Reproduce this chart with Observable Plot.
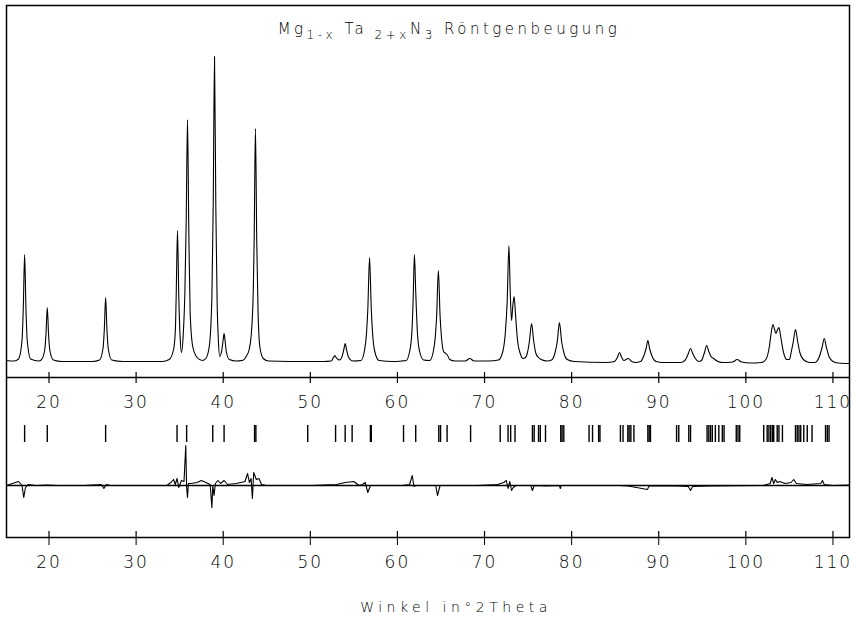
<!DOCTYPE html>
<html><head><meta charset="utf-8">
<script src="https://cdn.jsdelivr.net/npm/d3@7"></script>
<script src="https://cdn.jsdelivr.net/npm/@observablehq/plot@0.6"></script>
<style>body{margin:0;background:#fff;}</style>
</head><body><div id="chart"></div>
<script>
// Observed diffraction profile: [2Theta, intensity]
const observed = [
 [15.15,10],[16.0,5],
 [16.5,25],[16.9,210],[17.05,540],[17.2,1070],[17.35,540],[17.5,210],[17.9,25],[18.8,5],
 [19.1,15],[19.5,110],[19.65,270],[19.8,540],[19.95,270],[20.1,110],[20.5,15],[21.5,0],[25.0,0],
 [25.8,15],[26.2,130],[26.35,320],[26.5,640],[26.65,320],[26.8,130],[27.2,15],[28.5,0],[33.0,0],
 [33.8,20],[34.3,120],[34.5,300],[34.6,650],[34.75,1310],[34.9,650],[35.05,250],[35.2,90],
 [35.4,250],[35.6,700],[35.75,1400],[35.9,2420],[36.05,1300],[36.2,500],[36.5,150],[37.0,40],[37.6,10],
 [38.0,30],[38.4,150],[38.7,650],[38.85,1550],[39.0,3050],[39.15,1550],[39.3,600],[39.45,200],[39.6,50],
 [39.85,120],[40.0,220],[40.1,280],[40.2,220],[40.35,100],[40.7,20],[41.5,5],
 [42.2,10],[42.7,60],[42.95,110],[43.2,250],[43.45,700],[43.55,1200],[43.7,2330],[43.85,1200],[44.0,500],[44.2,150],[44.6,30],[45.2,5],
 [50.0,0],[51.5,0],
 [52.4,5],[52.65,40],[52.8,60],[52.95,40],[53.2,20],[53.35,15],
 [53.6,40],[53.85,120],[54.0,180],[54.15,120],[54.4,40],[54.9,5],
 [55.8,10],[56.2,100],[56.45,280],[56.6,520],[56.8,1040],[57.0,520],[57.15,280],[57.4,100],[57.9,10],
 [59.5,0],[60.5,5],
 [61.0,10],[61.4,100],[61.65,280],[61.8,600],[61.95,1070],[62.1,700],[62.3,280],[62.55,100],[63.0,15],
 [63.7,10],[64.1,90],[64.35,250],[64.5,450],[64.7,910],[64.9,450],[65.05,250],[65.3,100],[65.55,80],[65.7,70],[66.0,20],[66.6,5],
 [67.8,5],[68.3,30],[68.8,5],[70.5,5],
 [71.6,15],[72.1,100],[72.4,300],[72.6,600],[72.8,1160],[72.95,700],[73.1,410],[73.25,560],[73.4,650],[73.55,480],[73.8,200],[74.1,80],[74.4,30],[74.7,40],
 [74.9,80],[75.15,200],[75.4,380],[75.65,200],[75.9,80],[76.2,40],[76.5,20],[77.2,5],
 [77.7,15],[78.1,90],[78.35,200],[78.6,390],[78.85,200],[79.1,90],[79.5,20],[80.3,0],
 [84.0,-10],
 [84.9,0],[85.25,40],[85.5,90],[85.75,40],[86.0,10],[86.5,30],[86.9,0],[87.3,-10],
 [87.9,0],[88.3,60],[88.55,130],[88.75,210],[88.95,130],[89.2,60],[89.7,0],[90.5,-10],[92.5,-10],
 [93.0,10],[93.4,80],[93.65,130],[93.9,80],[94.2,30],[94.6,0],
 [94.9,10],[95.25,90],[95.5,160],[95.75,100],[96.0,50],[96.3,30],[96.7,5],[97.3,-10],
 [98.5,-5],[99.0,20],[99.5,-5],[100.5,-15],[101.8,-10],
 [102.3,20],[102.7,150],[102.9,280],[103.1,370],[103.3,320],[103.45,280],[103.6,310],[103.8,340],[104.0,250],[104.3,100],[104.7,20],[105.0,20],
 [105.2,90],[105.45,200],[105.7,320],[105.95,200],[106.2,90],[106.6,20],[107.3,-10],[107.9,-10],
 [108.4,40],[108.75,140],[109.0,230],[109.25,140],[109.55,50],[110.0,0],[110.6,-15],[111.9,-20]
];

// Difference curve (observed - calculated): [2Theta, difference]
const difference = [
 [15.12,0],[15.8,20],[16.5,40],[16.9,0],[17.1,-120],[17.3,-20],[17.6,10],[18.5,0],[19.8,5],[21.0,0],[24.0,0],
 [26.0,10],[26.3,-30],[26.6,10],[27.0,0],[33.5,0],[34.0,30],[34.3,60],[34.5,10],[34.7,70],[34.9,-20],[35.2,50],[35.5,40],
 [35.7,400],[35.8,-20],[35.9,-120],[36.0,20],[36.3,20],[37.0,30],[37.5,50],[38.0,30],[38.5,10],[38.7,-220],[38.8,0],[38.95,-100],
 [39.1,20],[39.4,50],[39.7,20],[40.1,50],[40.5,10],[41.5,20],[42.0,30],[42.5,40],[42.8,120],[43.0,30],[43.2,70],[43.35,-130],
 [43.5,130],[43.8,60],[44.1,70],[44.4,10],[45.0,0],[50.0,0],[53.0,10],[54.0,30],[55.0,40],[55.6,0],[56.0,10],[56.3,30],[56.6,-70],
 [56.9,0],[58.0,0],[60.5,0],[61.4,10],[61.7,100],[61.9,-10],[62.1,0],[63.5,0],[64.4,0],[64.6,-100],[64.9,0],[66.0,0],[69.0,0],
 [71.5,10],[72.2,30],[72.5,50],[72.7,-30],[72.9,40],[73.1,-50],[73.3,-20],[73.6,0],[75.3,0],[75.5,-50],[75.7,0],[77.0,-5],
 [78.6,0],[78.7,-30],[78.8,0],[80.0,0],[85.5,0],[86.5,-5],[88.7,-40],[88.9,-5],[92.0,-5],[93.4,-10],[93.65,-50],[93.9,-10],
 [96.0,-5],[102.0,0],[102.8,20],[103.0,80],[103.2,20],[103.4,60],[103.6,30],[103.9,40],[104.5,20],[105.2,30],[105.5,60],
 [105.8,20],[107.0,10],[108.6,20],[108.8,50],[109.0,10],[110.0,0],[111.9,5]
];

// Bragg reflection positions (2Theta)
const reflections = [
 17.2,19.8,26.5,34.7,35.8,38.8,40.1,43.6,43.75,
 49.7,52.9,54.0,54.8,56.9,57.0,60.7,62.1,64.75,64.95,65.7,68.4,71.8,72.7,73.0,73.5,75.5,75.7,76.2,76.4,77.0,
 78.75,78.9,79.1,82.0,82.4,83.1,83.25,85.6,85.9,86.45,86.6,86.8,87.15,88.75,88.9,89.05,92.05,92.3,93.45,93.65,
 95.55,95.75,95.95,96.15,96.5,96.9,97.3,97.5,98.9,99.1,99.3,102.05,102.45,102.65,102.85,103.05,103.2,103.6,103.8,
 104.2,105.7,105.9,106.1,106.3,106.65,107.05,107.6,109.15,109.35,109.55
];

const tickValues = [20,30,40,50,60,70,80,90,100,110];
const titleParts = [["Mg",0],["1-x",1],[" Ta",0],[" 2+x",1],["N",0],["3",1],[" Röntgenbeugung",0]];
const titleText = titleParts.map(d => d[0]).join("");
const xLabel = "Winkel in°2Theta";

// vertical layout (intensity units)
const yMin = -1760, yMax = 3560;
const midAxis = -160, reflTop = -640, reflBottom = -810, diffZero = -1240;

const font = "DejaVu Sans";

const plot = Plot.plot({
  width: 851, height: 623,
  marginLeft: 6, marginRight: 2, marginTop: 5, marginBottom: 86,
  x: {domain: [15.12, 111.9]},
  y: {domain: [yMin, yMax], axis: null},
  style: {fontFamily: font, background: "white", color: "black"},
  marks: [
    Plot.frame({stroke: "black", strokeWidth: 1.5}),
    Plot.line(observed, {x: d => d[0], y: d => d[1], stroke: "black", strokeWidth: 1.1, curve: "monotone-x"}),
    Plot.ruleY([midAxis], {stroke: "black", strokeWidth: 1.3}),
    Plot.ruleX(tickValues, {x: d => d, y1: midAxis - 60, y2: midAxis + 50, stroke: "black", strokeWidth: 1.2}),
    Plot.text(tickValues, {x: d => d, y: midAxis, dy: 25, text: d => String(d), fontSize: 17, fontWeight: 200, lineAnchor: "middle", fill: "black"}),
    Plot.ruleX(reflections, {x: d => d, y1: reflBottom, y2: reflTop, stroke: "black", strokeWidth: 1.4}),
    Plot.ruleY([diffZero], {stroke: "black", strokeWidth: 1.4}),
    Plot.line(difference, {x: d => d[0], y: d => diffZero + d[1], stroke: "black", strokeWidth: 1.1}),
    Plot.ruleX(tickValues, {x: d => d, y1: yMin, y2: yMin + 60, stroke: "black", strokeWidth: 1.2}),
    Plot.axisX(tickValues, {anchor: "bottom", tickSize: 8, tickPadding: 10, fontSize: 17, fontWeight: 200, label: null, tickFormat: d => String(d), fill: "black"}),
    Plot.text([xLabel], {frameAnchor: "bottom", dx: 28, dy: 70, fontSize: 14, fontWeight: 200, lineAnchor: "middle", fill: "black"}),
    Plot.text([titleText], {frameAnchor: "top", dx: 21, dy: 24, fontSize: 15, fontWeight: 200, lineAnchor: "middle", fill: "black"})
  ]
});

const svg = d3.select(plot);
svg.selectAll("text").attr("letter-spacing", 2);
svg.selectAll("text").filter(function() { return this.textContent === titleText; }).each(function() {
  const t = d3.select(this);
  t.text(null).attr("letter-spacing", 3.5);
  titleParts.forEach(([s, sub], i) => {
    const prev = titleParts[i - 1];
    let dy = 0;
    if (sub && !(prev && prev[1])) dy = 5;
    if (!sub && prev && prev[1]) dy = -5;
    const ts = t.append("tspan").text(s).attr("dy", dy);
    if (sub) ts.attr("font-size", 12);
  });
});
svg.selectAll("text").filter(function() { return this.textContent === xLabel; }).attr("letter-spacing", 4.5);
document.getElementById("chart").appendChild(plot);
</script>
</body></html>
